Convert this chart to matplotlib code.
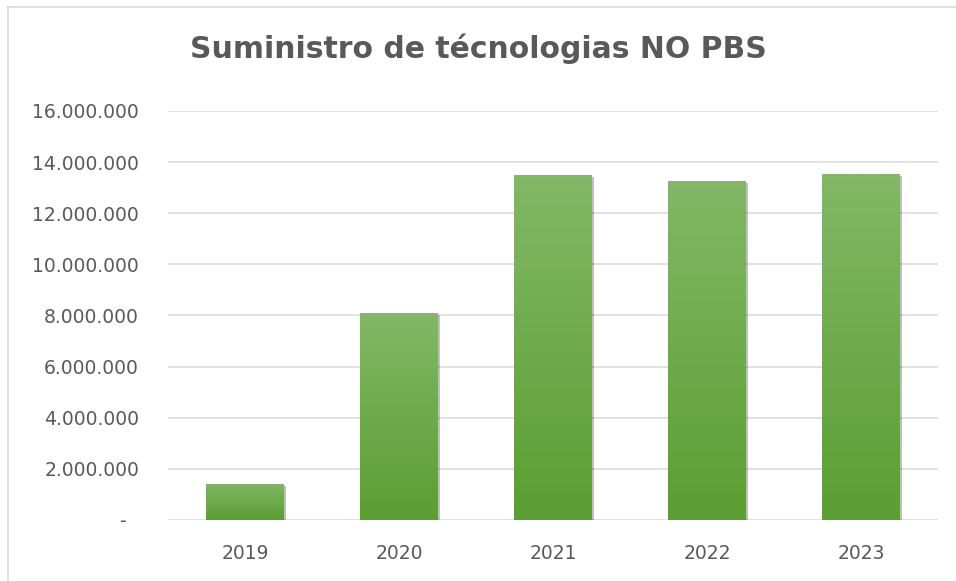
import matplotlib
matplotlib.use("Agg")
import matplotlib.pyplot as plt
import matplotlib.patheffects as pe
from matplotlib.lines import Line2D
from matplotlib.ticker import FuncFormatter
import numpy as np

years = ["2019", "2020", "2021", "2022", "2023"]
values = [1420000, 8100000, 13490000, 13250000, 13530000]

grey_text = "#595959"
grid_col = "#d9d9d9"

fig = plt.figure(figsize=(9.56, 5.81), dpi=100)
ax = fig.add_axes([0.176, 0.105, 0.805, 0.704])

x = np.arange(len(years))
bars = ax.bar(x, values, width=0.506, color="#70ad47", zorder=3,
              path_effects=[pe.SimplePatchShadow(offset=(1.5, -1.5), shadow_rgbFace="#000000", alpha=0.25),
                            pe.Normal()])

# vertical gradient for each bar
grad = np.linspace(0, 1, 256).reshape(-1, 1)
cmap = matplotlib.colors.LinearSegmentedColormap.from_list("g", ["#5b9e32", "#82b866"])
for b in bars:
    bx, by = b.get_x(), b.get_y()
    w, h = b.get_width(), b.get_height()
    im = ax.imshow(grad, extent=[bx, bx + w, by, by + h], origin="lower",
                   cmap=cmap, aspect="auto", zorder=4)
    im.set_clip_path(b)

ax.set_xlim(-0.5, len(years) - 0.5)
ax.set_ylim(0, 16000000)
ax.set_xticks(x)
ax.set_xticklabels(years)
ax.set_yticks(np.arange(0, 16000001, 2000000))


def fmt(v, pos):
    if v == 0:
        return "-  "
    return f"{int(v):,}".replace(",", ".")


ax.yaxis.set_major_formatter(FuncFormatter(fmt))
ax.tick_params(axis="both", length=0, labelsize=13.5, labelcolor=grey_text)
ax.tick_params(axis="y", pad=21)
ax.tick_params(axis="x", pad=17)
ax.grid(axis="y", color=grid_col, linewidth=1.1, zorder=0)
for s in ax.spines.values():
    s.set_visible(False)

fig.text(0.5, 0.916, "Suministro de técnologias NO PBS", ha="center", va="center",
         fontsize=21.5, fontweight="bold", color=grey_text)

# chart area border (top and left)
fig.add_artist(Line2D([8 / 956, 955 / 956], [1 - 7 / 581, 1 - 7 / 581], color=grid_col, lw=1.2))
fig.add_artist(Line2D([8 / 956, 8 / 956], [0, 1 - 7 / 581], color=grid_col, lw=1.2))

fig.savefig("out.png", dpi=100)
